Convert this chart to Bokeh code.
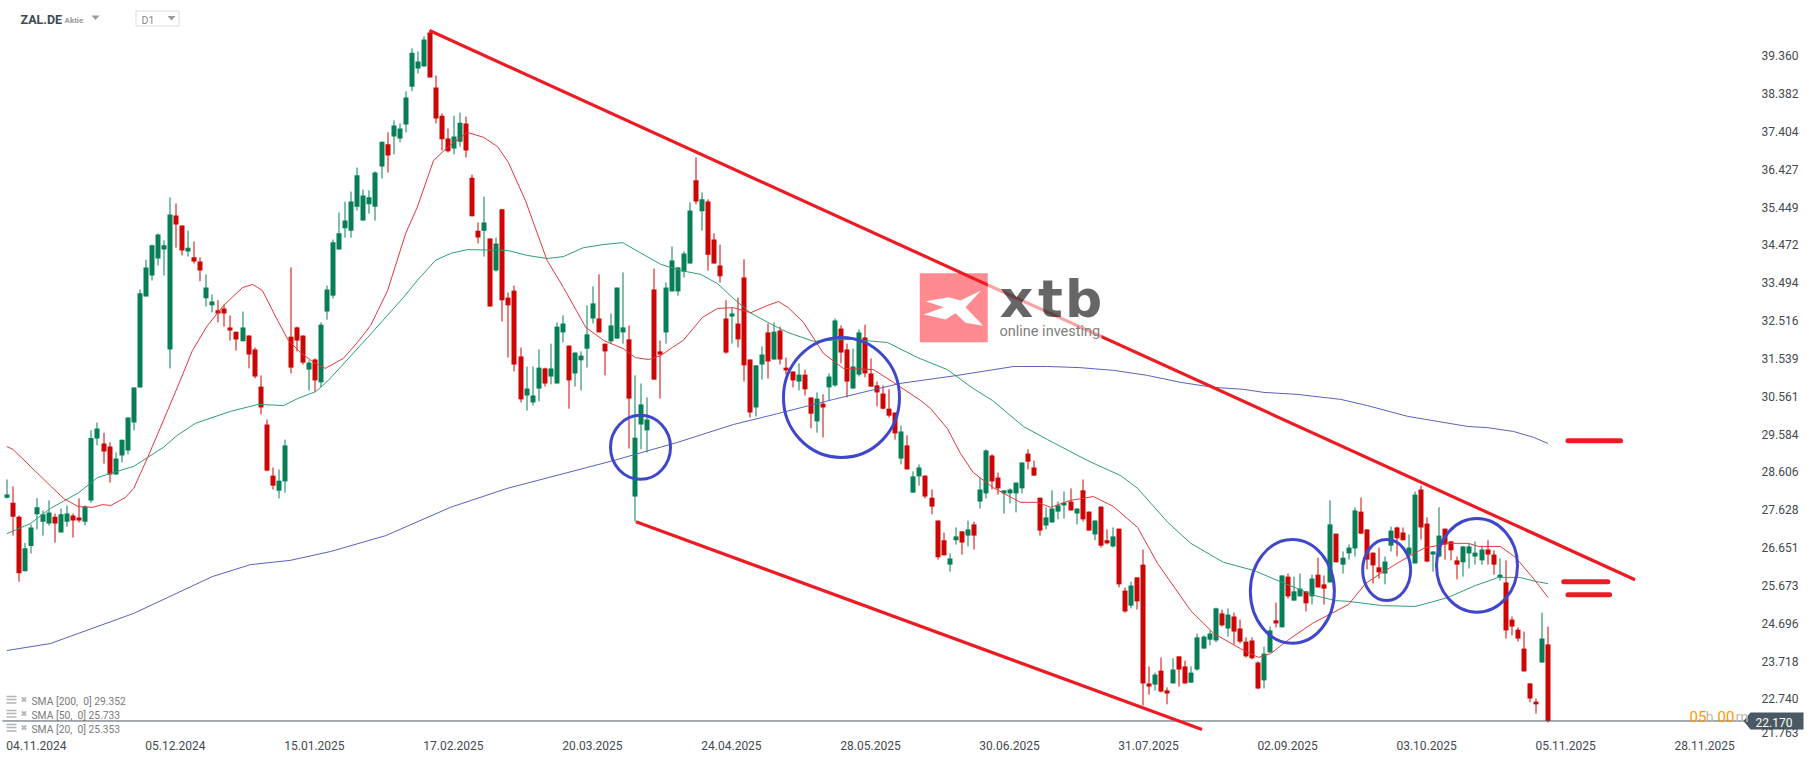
import math
from bokeh.plotting import figure
from bokeh.models import FixedTicker
from bokeh.core.properties import value
from bokeh.embed import file_html
from bokeh.resources import INLINE

opens = [27.94,27.81,27.45,26.04,26.69,27.51,27.32,27.27,27.45,27.04,27.32,27.48,27.43,27.32,27.87,29.47,29.34,29.26,28.54,29.03,29.16,29.88,30.79,33.14,33.68,34.12,34.35,31.77,35.23,34.97,34.30,34.15,34.04,33.09,32.91,32.78,32.83,32.34,32.23,31.98,32.13,31.77,30.81,29.83,28.51,28.12,28.36,32.10,32.34,32.13,31.25,31.51,30.92,32.75,33.16,34.35,34.90,34.84,35.46,35.10,35.52,35.46,36.50,37.07,37.27,37.22,37.58,38.56,39.03,39.08,39.96,38.54,37.81,37.22,36.96,37.14,37.61,36.21,34.84,34.84,34.64,33.81,35.39,33.11,33.29,31.59,30.58,30.40,30.76,31.28,31.07,30.89,32.21,31.87,31.15,31.49,31.79,32.57,32.57,31.92,31.98,32.05,32.21,32.03,27.97,29.83,29.68,33.32,31.72,32.21,33.27,33.27,33.78,33.99,36.14,35.34,35.59,34.61,33.94,32.57,32.62,32.44,33.63,31.51,30.27,31.38,32.21,31.51,32.26,31.30,31.20,30.94,31.12,30.53,29.91,30.37,30.79,30.84,32.31,31.77,30.76,31.12,32.08,31.15,30.84,30.63,30.24,30.14,28.95,29.29,28.07,28.49,28.51,27.94,27.35,26.84,26.21,26.84,27.07,26.96,27.25,27.84,28.05,29.03,28.46,28.05,28.05,28.05,28.18,29.08,28.72,27.94,27.22,27.30,27.58,27.74,27.84,27.53,28.13,27.58,26.99,27.71,26.84,26.68,27.14,25.54,25.15,25.88,26.21,23.14,23.11,23.47,22.96,23.14,23.84,23.58,23.16,23.50,24.04,24.27,24.25,24.95,24.56,24.87,24.56,24.22,24.25,23.68,23.22,23.94,24.77,24.59,25.90,25.28,25.39,25.52,25.39,25.95,25.70,25.75,27.01,26.21,26.50,26.63,27.58,27.12,26.52,26.14,25.98,26.70,27.17,27.04,26.47,26.24,28.15,27.27,26.47,26.42,27.14,26.81,26.32,26.27,26.50,26.42,26.32,26.60,26.47,25.88,25.75,24.79,24.53,24.04,23.14,22.67,23.68,24.15]
highs = [28.41,28.23,27.48,26.77,27.25,27.93,27.61,27.87,27.53,27.66,27.74,27.53,27.92,27.74,29.68,29.88,29.62,29.37,29.11,29.44,30.01,30.79,33.32,34.09,34.48,34.77,34.59,35.70,35.54,34.97,34.84,34.56,34.15,33.71,33.19,33.04,32.93,32.65,32.23,32.75,32.13,31.82,31.10,29.96,28.72,28.67,29.44,33.89,32.36,32.13,31.49,31.54,32.47,33.42,34.61,35.31,35.59,35.85,36.47,35.90,35.88,36.37,37.14,37.38,37.69,37.61,38.44,39.55,39.47,39.86,40.01,38.85,37.87,37.48,37.81,37.89,37.79,36.29,35.05,35.72,34.64,34.66,35.39,33.24,33.42,31.82,31.33,31.33,31.77,31.30,31.92,32.47,32.65,31.87,31.69,31.72,32.91,33.40,33.71,31.92,32.70,33.37,33.76,32.39,31.10,30.89,30.53,33.86,32.00,33.50,34.43,33.89,34.30,35.57,36.73,35.83,35.65,34.77,34.48,33.04,32.85,33.11,34.10,31.51,31.36,31.85,32.44,32.47,32.36,31.56,31.20,31.41,31.25,30.53,30.66,30.61,31.15,32.57,32.39,31.92,31.79,32.29,32.41,31.54,30.94,30.84,30.74,30.14,29.80,29.55,28.62,28.80,28.51,28.15,27.35,27.04,26.50,27.17,27.07,27.35,27.32,28.46,29.19,29.06,28.59,28.13,28.18,28.33,28.85,29.19,28.90,27.94,27.69,28.13,27.84,28.10,28.18,27.66,28.41,27.58,27.35,27.71,27.12,27.17,27.14,25.62,25.77,25.88,26.60,23.58,23.42,23.81,23.04,23.79,23.84,23.73,23.58,24.43,24.38,24.51,25.10,25.05,25.08,24.97,24.79,24.33,24.33,23.71,24.09,24.61,25.23,25.93,25.98,25.90,25.98,25.52,25.95,26.39,25.93,27.87,27.01,26.55,26.73,27.69,27.94,27.12,26.52,26.65,26.42,27.19,27.19,27.17,26.99,28.10,28.25,27.43,26.55,27.69,27.14,26.81,26.42,26.68,26.76,26.81,26.70,26.84,26.58,26.37,26.32,24.87,24.59,24.48,23.14,22.75,24.97,24.61]
lows = [27.92,26.96,25.77,26.04,26.50,27.12,26.96,27.22,26.78,27.04,27.19,26.91,27.30,27.22,27.81,29.29,28.82,28.33,28.54,28.85,29.06,29.68,30.79,33.14,33.55,33.94,33.68,31.28,34.40,34.20,34.17,33.99,33.53,32.88,32.73,32.47,32.36,32.00,31.74,31.98,31.28,31.02,30.09,28.62,28.15,27.92,28.07,31.15,31.72,31.38,30.71,30.68,30.79,32.54,33.09,34.35,34.66,34.66,35.36,35.10,35.28,35.10,36.19,36.34,36.81,37.12,37.38,38.44,38.90,39.08,38.80,37.61,36.91,36.86,36.81,37.01,36.73,35.21,34.51,34.17,32.88,33.78,32.49,31.56,31.20,30.40,30.19,30.32,30.43,30.81,30.87,30.89,31.95,30.24,30.81,30.71,31.30,32.44,32.21,31.10,31.92,32.05,31.92,29.21,27.32,29.19,29.11,30.99,30.50,31.92,33.27,33.16,33.63,33.99,35.52,34.84,33.81,33.99,33.50,31.66,31.92,31.82,30.94,30.01,30.04,30.99,31.02,31.51,31.38,31.12,30.79,30.71,30.58,29.73,29.62,29.50,30.45,30.81,31.41,30.53,30.76,31.07,31.05,30.81,30.30,30.22,30.01,29.44,28.80,28.67,28.07,28.25,27.92,27.51,26.34,26.45,26.03,26.73,26.47,26.68,26.60,27.66,27.92,28.15,28.02,27.53,27.79,27.56,28.05,28.67,28.51,26.96,27.12,27.30,27.38,27.40,27.61,27.25,27.32,27.09,26.84,26.65,26.73,26.65,25.62,24.97,25.08,25.05,22.57,22.85,22.96,22.91,22.60,23.14,23.06,23.14,23.16,23.47,24.04,24.12,24.20,24.61,24.35,24.15,24.17,23.81,23.76,22.99,23.01,23.94,24.59,24.59,25.33,25.28,25.39,25.00,25.18,25.62,25.18,25.75,26.27,25.98,26.34,26.42,27.01,26.09,25.72,25.85,25.70,26.55,26.42,26.84,26.29,26.24,26.86,26.27,26.03,26.39,26.34,26.32,25.83,25.90,26.11,26.21,26.21,26.21,25.95,25.80,24.30,24.38,24.22,23.45,22.65,22.36,23.68,22.13]
closes = [28.02,27.45,25.99,26.63,27.17,27.69,27.51,27.56,27.27,27.51,27.53,27.35,27.35,27.71,29.48,29.73,29.13,28.54,28.95,29.44,30.01,30.79,33.22,33.89,34.46,34.74,34.46,35.26,35.00,34.33,34.40,34.04,33.81,33.37,33.01,32.70,32.70,32.26,32.03,32.34,31.64,31.07,30.27,28.64,28.25,28.38,29.29,31.30,32.00,31.43,31.43,30.97,32.41,33.32,34.54,34.77,35.10,35.59,36.27,35.75,35.70,36.34,37.14,36.78,37.56,37.48,38.28,39.44,39.21,39.78,38.80,37.74,37.20,36.89,37.27,37.63,36.91,35.21,34.66,35.05,32.88,34.51,33.04,32.91,31.38,30.48,30.76,30.58,31.30,30.89,31.28,32.36,32.44,30.97,31.69,31.61,32.16,32.96,32.21,31.72,32.39,33.37,32.34,30.50,29.49,30.35,29.96,30.99,31.64,33.37,34.07,33.89,34.25,35.36,35.59,35.65,34.22,33.99,33.66,31.69,32.70,32.03,31.36,30.14,31.36,31.64,31.46,32.23,31.51,31.23,30.97,31.12,30.74,30.11,30.50,30.27,31.07,32.52,31.69,30.94,31.33,32.21,31.15,30.81,30.66,30.24,30.06,29.60,29.65,28.67,28.49,28.72,27.97,27.71,26.40,26.45,26.37,26.94,26.78,27.12,26.96,28.15,29.16,28.36,28.18,28.13,28.15,28.33,28.85,28.87,28.51,27.09,27.43,27.66,27.74,27.81,27.61,27.66,27.38,27.09,27.35,26.70,26.76,26.94,25.70,25.00,25.67,25.26,23.14,23.06,23.37,22.93,22.88,23.50,23.50,23.14,23.42,24.33,24.35,24.43,25.08,24.64,24.92,24.48,24.22,23.84,23.79,23.01,23.91,24.51,24.69,25.93,25.39,25.52,25.59,25.21,25.85,25.62,25.59,27.25,26.27,26.39,26.65,27.61,27.01,26.34,26.19,26.01,26.29,27.09,26.89,26.84,26.65,28.02,27.17,26.29,26.55,26.96,26.73,26.58,26.21,26.68,26.68,26.52,26.60,26.47,26.21,25.95,24.51,24.61,24.30,23.45,22.75,22.60,24.30,22.17]

sma200_i = [0,7.2,21,34,40.3,46.9,53.6,62.7,73.4,82.8,100.4,111,120.2,127.5,136.8,147.7,157.3,166.6,172.2,177.6,183.1,188.7,194.2,199.7,204.6,208,213.5,220.7,225.1,231.8,241.7,245,249.3,252.6,255]
sma200_v = [23.99,24.17,24.95,25.90,26.21,26.32,26.55,26.96,27.69,28.18,28.90,29.37,29.83,30.11,30.48,30.89,31.10,31.33,31.33,31.30,31.23,31.10,30.92,30.79,30.74,30.66,30.61,30.48,30.32,30.04,29.78,29.75,29.65,29.50,29.34]
sma20_i = [0,1,3.9,7.2,9.4,11.8,14.2,15.8,17.2,19.6,21,23.3,25.9,28.7,30.7,33.2,35.9,39,40.7,42.3,44.8,46.6,48.6,50.8,52.7,55.7,58,60.2,63,66,67.9,70.6,72.9,76.2,78.9,81.2,83,85.8,89.4,92.1,95.8,98.8,102,104,106.2,108.2,110.1,111.9,115.1,117.6,120.2,123.1,125.9,127.7,129.3,131.8,135.1,138.4,143.4,146.7,151.2,152.8,155.6,157.8,159.9,163.2,167.7,170.5,172.7,176,179.8,183.1,187.1,190.4,195.9,199.7,204.1,207.1,209.1,211.9,216,222,224.8,227.6,230.3,234.4,238.4,241.8,243.5,247.1,249.6,252.6,255]
sma20_v = [29.26,29.19,28.75,28.25,27.92,27.71,27.69,27.76,27.74,27.94,28.18,28.98,29.93,30.97,31.74,32.39,32.91,33.37,33.45,33.29,32.52,32.00,31.69,31.43,31.28,31.54,31.95,32.39,33.29,34.77,35.44,36.65,36.99,37.38,37.25,37.01,36.60,35.62,34.07,33.37,32.34,32.00,31.79,31.56,31.51,31.61,31.82,32.00,32.60,32.83,32.85,32.72,32.91,33.01,32.85,32.47,31.67,31.28,31.25,30.92,30.45,30.25,29.73,29.08,28.59,28.20,27.82,27.82,27.69,27.87,27.97,27.71,27.17,26.24,25.02,24.43,24.04,23.81,23.91,24.25,24.69,25.18,25.72,26.01,26.27,26.63,26.76,26.76,26.68,26.68,26.40,25.85,25.36]
sma50_i = [0,3.9,7.2,11.9,15,21,23.3,25.9,28.2,31.2,37,41.6,45.8,48.1,51.1,53.2,59.7,65.6,67.9,70.9,73.4,76.2,82.8,86.1,89.4,92.1,95.4,98.7,101.9,104.8,108.2,111.5,114.8,117.6,120.2,123,125.9,129.2,133.5,139.6,145.7,150.7,155.6,159.9,163.1,168.2,172.2,178.8,184.3,187.1,192.1,195.9,201.3,206.3,210.7,216.4,219.8,222,227.6,233,235,238.4,243,246.8,250.3,253.1,255]
sma50_v = [27.01,27.27,27.66,28.07,28.46,28.75,28.98,29.24,29.55,29.86,30.17,30.35,30.32,30.50,30.68,30.97,32.08,33.11,33.55,34.07,34.25,34.35,34.33,34.20,34.12,34.17,34.40,34.48,34.53,34.27,33.97,33.81,33.71,33.47,33.09,32.72,32.47,32.21,31.98,32.03,31.95,31.56,31.25,30.76,30.45,29.78,29.44,28.90,28.51,28.18,27.30,26.76,26.27,26.06,25.77,25.41,25.28,25.26,25.15,25.13,25.21,25.36,25.67,25.88,25.88,25.77,25.72]

price_ticks = [39.36,38.382,37.404,36.427,35.449,34.472,33.494,32.516,31.539,30.561,29.584,28.606,27.628,26.651,25.673,24.696,23.718,22.74]
last_tick_label = "21.763"
date_labels = ["04.11.2024","05.12.2024","15.01.2025","17.02.2025","20.03.2025","24.04.2025","28.05.2025","30.06.2025","31.07.2025","02.09.2025","03.10.2025","05.11.2025","28.11.2025"]
date_index = [0,23,46,69,92,115,138,161,184,207,230,253,276]
last_price = 22.17
sma_rows = [("SMA\u00a0[200,\u00a0\u00a00]\u00a029.352"),("SMA\u00a0[50,\u00a0\u00a00]\u00a025.733"),("SMA\u00a0[20,\u00a0\u00a00]\u00a025.353")]

# trend lines as (candle index, price) and level marks
upper_i, upper_v = [69.94, 269.4], [40.01, 25.82]
lower_i, lower_v = [104.1, 197.75], [27.32, 21.95]
levels = [(258.3, 267.0, 29.41), (257.6, 264.9, 25.77), (258.3, 265.2, 25.43)]
# highlighted ellipses: candle index, price, width in candles, height in price
ell_i = [104.85, 138.1, 212.7, 228.3, 243.25]
ell_v = [29.24, 30.53, 25.52, 26.07, 26.19]
ell_w = [9.93, 19.2, 13.9, 7.94, 13.4]
ell_h = [1.654, 3.10, 2.69, 1.58, 2.43]

STEP = 6.044; X0 = 6.3; P0 = 40.787; K = 0.02584
W, H = 1815, 761
def X(px): return (px - X0) / STEP
def Y(py): return P0 - K * py

GREEN = "#067f56"; RED = "#cc0505"; TREND = "#ed1c24"; BLUE = "#3f48cc"
TXT = "#3f4a52"

p = figure(width=W, height=H, x_range=(X(0), X(W)), y_range=(Y(H), Y(0)),
           output_backend="svg", toolbar_location=None, y_axis_location="right",
           min_border=0, min_border_left=0, min_border_right=0, min_border_top=0, min_border_bottom=0,
           outline_line_color=None, background_fill_color="white", border_fill_color="white")
p.grid.visible = False

ya = p.yaxis[0]
tick_vals = price_ticks + [Y(732)]
ya.ticker = FixedTicker(ticks=tick_vals)
ya.major_label_overrides = {**{v: f"{v:.3f}" for v in price_ticks}, Y(732): last_tick_label}
ya.fixed_location = X(1750)
ya.axis_line_color = None; ya.major_tick_line_color = None; ya.minor_tick_line_color = None
ya.major_label_text_font = "Roboto"; ya.major_label_text_font_size = "12px"
ya.major_label_text_color = TXT; ya.major_label_standoff = 5

xa = p.xaxis[0]
xt = [i + 4.9 for i in date_index]
xa.ticker = FixedTicker(ticks=xt)
xa.major_label_overrides = dict(zip(xt, date_labels))
xa.fixed_location = Y(732)
xa.axis_line_color = None; xa.major_tick_line_color = None; xa.minor_tick_line_color = None
xa.major_label_text_font = "Roboto"; xa.major_label_text_font_size = "12px"
xa.major_label_text_color = TXT; xa.major_label_standoff = 2

def txt(px, py, s, size, color, font="Roboto", style="normal", align="left", alpha=1.0, baseline="middle"):
    p.text([X(px)], [Y(py)], text=[s], text_font=value(font), text_font_size=f"{size}px",
           text_color=color, text_alpha=alpha, text_font_style=style, text_align=align, text_baseline=baseline)

# logo square and mark under the lines
p.quad(left=[X(919.3)], right=[X(987.3)], top=[Y(272.7)], bottom=[Y(341.7)], fill_color="#ff8a90", line_color=None)
mx = [135,205,240,302,255,308,255,225,195,130,190]
my = [182,170,180,150,200,256,247,218,237,222,200]
p.patch([X(880 + a / 3) for a in mx], [Y(240 + b / 3) for b in my], fill_color="white", line_color=None)

# candles
xs = [X(math.floor(X0 + STEP * i) + 0.5) for i in range(len(opens))]
cols = [GREEN if c >= o else RED for o, c in zip(opens, closes)]
p.segment(xs, highs, xs, lows, line_color=cols, line_width=1)
p.vbar(x=xs, width=5 / STEP, top=[max(o, c) for o, c in zip(opens, closes)],
       bottom=[min(o, c) for o, c in zip(opens, closes)], fill_color=cols, line_color=None)

# moving averages
p.line(sma200_i, sma200_v, line_color="#5764bd", line_width=1)
p.line(sma50_i, sma50_v, line_color="#2f9d78", line_width=1)
p.line(sma20_i, sma20_v, line_color="#e2393b", line_width=1)

# last price line
p.line([X(2), X(1745)], [last_price, last_price], line_color="#4a5964", line_width=1)

# drawings
p.line(upper_i, upper_v, line_color=TREND, line_width=3.2)
p.line(lower_i, lower_v, line_color=TREND, line_width=3.2)
for a, b, v in levels:
    p.line([a, b], [v, v], line_color=TREND, line_width=5, line_cap="round")
p.ellipse(ell_i, ell_v, width=ell_w, height=ell_h, fill_color=None, line_color=BLUE, line_width=3)

# logo right part sits above the line
p.quad(left=[X(987.3)], right=[X(1101)], top=[Y(272.7)], bottom=[Y(341.7)], fill_color="white", fill_alpha=0.6, line_color=None)
for cx, ch in [(1016, "x"), (1050, "t"), (1083, "b")]:
    txt(cx, 298, ch, 52, "black", font="DejaVu Sans", style="bold", align="center", alpha=0.6)
txt(999, 330.5, "online investing", 14.5, "#808080", font="Roboto")

# price tag and timer
p.patch([X(1743), X(1750), X(1803), X(1803), X(1750)], [Y(720.5), Y(712), Y(712), Y(729), Y(729)], fill_color="#4a5964", line_color=None)
txt(1755, 721.5, "22.170", 12, "white")
txt(1689, 716, "05", 15, "#ff9800"); txt(1705, 716, "h", 15, "#bdbdbd")
txt(1717, 716, "00", 15, "#ff9800"); txt(1735, 716, "m", 15, "#bdbdbd")

# header
txt(20, 18.5, "ZAL.DE", 12.5, "#3c4a54", style="bold")
txt(64, 19.5, "Aktie", 8, "#9a9a9a", style="bold")
p.patch([X(91), X(99), X(95)], [Y(15), Y(15), Y(19.5)], fill_color="#9a9a9a", line_color=None)
p.quad(left=[X(135.5)], right=[X(178.5)], top=[Y(10.5)], bottom=[Y(25.5)], fill_color=None, line_color="#dddddd", line_width=1)
txt(141, 19.5, "D1", 10.5, "#8a8a8a")
p.patch([X(167), X(175), X(171)], [Y(15.5), Y(15.5), Y(20)], fill_color="#9a9a9a", line_color=None)

# indicator rows
for row, (yy, s) in enumerate(zip([701, 715, 729], sma_rows)):
    for dy, xr in [(-5, 16), (-2, 16), (1.5, 16)]:
        p.line([X(6), X(xr)], [Y(yy + dy), Y(yy + dy)], line_color="#b5b5b5", line_width=1.6)
    p.scatter([X(23.5)], [Y(yy - 2)], marker="x", size=6, line_color="#b5b5b5", line_width=2)
    txt(31, yy, s, 10.3, "#7b7b7b")

html = file_html(p, INLINE)
open("out.html", "w").write(html)
